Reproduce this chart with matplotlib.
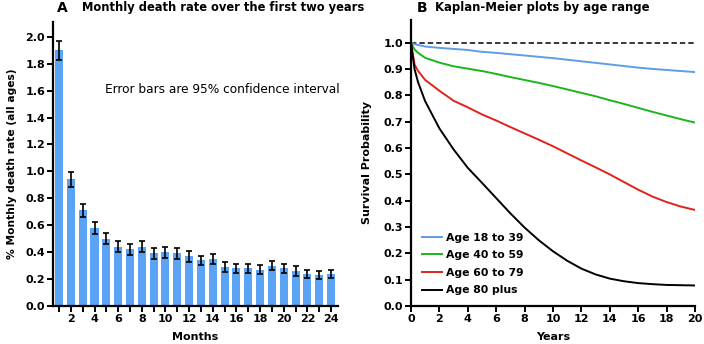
import numpy as np
import matplotlib
matplotlib.use("Agg")
import matplotlib.pyplot as plt

plt.rcParams['font.family'] = ['DejaVu Sans']

# panel A: monthly death rate (%), with 95% CI half-widths
months = list(range(1, 25))
death_rate = [1.90, 0.94, 0.71, 0.58, 0.50, 0.44, 0.42, 0.44, 0.39, 0.40, 0.39, 0.37,
              0.34, 0.35, 0.29, 0.28, 0.28, 0.27, 0.30, 0.28, 0.26, 0.24, 0.23, 0.24]
ci_half = [0.07, 0.055, 0.05, 0.045, 0.04, 0.04, 0.04, 0.04, 0.04, 0.04, 0.04, 0.04,
           0.035, 0.035, 0.035, 0.035, 0.035, 0.035, 0.035, 0.035, 0.035, 0.03, 0.03, 0.03]

# panel B: Kaplan-Meier survival by age range
years = [0, 0.25, 0.5, 1, 2, 3, 4, 5, 6, 7, 8, 9, 10, 11, 12, 13, 14, 15, 16, 17, 18, 19, 20]
surv_18_39 = [1.0, 0.995, 0.992, 0.986, 0.981, 0.977, 0.973, 0.966, 0.962, 0.957, 0.952, 0.947,
              0.942, 0.936, 0.930, 0.924, 0.918, 0.912, 0.906, 0.901, 0.897, 0.893, 0.889]
surv_40_59 = [1.0, 0.975, 0.962, 0.943, 0.925, 0.911, 0.902, 0.893, 0.882, 0.870, 0.859, 0.848,
              0.836, 0.823, 0.810, 0.797, 0.782, 0.768, 0.753, 0.738, 0.724, 0.710, 0.697]
surv_60_79 = [1.0, 0.918, 0.893, 0.859, 0.818, 0.780, 0.755, 0.728, 0.705, 0.680, 0.656, 0.632,
              0.607, 0.580, 0.553, 0.527, 0.500, 0.471, 0.442, 0.416, 0.395, 0.378, 0.365]
surv_80_plus = [1.0, 0.900, 0.850, 0.778, 0.675, 0.595, 0.525, 0.468, 0.410, 0.352, 0.298, 0.250,
                0.208, 0.172, 0.142, 0.120, 0.104, 0.094, 0.087, 0.083, 0.080, 0.079, 0.078]
age_labels = ['Age 18 to 39', 'Age 40 to 59', 'Age 60 to 79', 'Age 80 plus']
line_colors = ['#5d9ee8', '#1db41d', '#e3211c', '#000000']

fig = plt.figure(figsize=(7.04, 3.44), dpi=100)
axA = fig.add_axes([0.0753, 0.1105, 0.405, 0.8256])
axB = fig.add_axes([0.5838, 0.1105, 0.4034, 0.8314])

def style_axis(ax):
    for s in ['top', 'right']:
        ax.spines[s].set_visible(False)
    for s in ['left', 'bottom']:
        ax.spines[s].set_linewidth(1.6)
    ax.tick_params(width=1.4, length=4.5, labelsize=8, pad=1.2)
    for lab in ax.get_xticklabels() + ax.get_yticklabels():
        lab.set_fontweight('bold')

# --- panel A
axA.bar(months, death_rate, width=0.68, color='#5ba3f5', zorder=1)
axA.errorbar(months, death_rate, yerr=ci_half, fmt='none', ecolor='black',
             elinewidth=1.2, capsize=2, capthick=1.2, zorder=2)
axA.set_xlim(0.49, 24.6)
axA.set_ylim(0, 2.11)
axA.set_yticks(np.arange(0, 2.01, 0.2))
axA.set_yticklabels(['%.1f' % v for v in np.arange(0, 2.01, 0.2)])
axA.set_xticks(months)
axA.set_xticklabels([str(m) if m % 2 == 0 else '' for m in months])
axA.set_xlabel('Months', fontsize=8, fontweight='bold', labelpad=6)
axA.set_ylabel('% Monthly death rate (all ages)', fontsize=7.7, fontweight='bold')
axA.yaxis.set_label_coords(-0.128, 0.5)
axA.text(4.9, 1.61, 'Error bars are 95% confidence interval', fontsize=8.7,
         ha='left', va='center')
style_axis(axA)

# --- panel B
axB.axhline(1.0, color='black', lw=1.1, ls=(0, (3.5, 2)), zorder=1)
for surv, lab, col in zip([surv_18_39, surv_40_59, surv_60_79, surv_80_plus],
                          age_labels, line_colors):
    axB.plot(years, surv, color=col, lw=1.4, label=lab, zorder=2)
axB.set_xlim(0, 20)
axB.set_ylim(0, 1.087)
axB.set_xticks(range(0, 21, 2))
axB.set_yticks(np.arange(0, 1.01, 0.1))
axB.set_yticklabels(['%.1f' % v for v in np.arange(0, 1.01, 0.1)])
axB.set_xlabel('Years', fontsize=8, fontweight='bold', labelpad=6)
axB.set_ylabel('Survival Probability', fontsize=8, fontweight='bold')
axB.yaxis.set_label_coords(-0.137, 0.5)
leg = axB.legend(loc='lower left', bbox_to_anchor=(0.037, 0.037), frameon=False,
                 borderaxespad=0, borderpad=0, handlelength=1.9, handletextpad=0.35,
                 labelspacing=0.7, prop={'weight': 'bold', 'size': 7.8})
style_axis(axB)

# panel titles
fig.text(0.088, 0.977, 'A', fontsize=10, fontweight='bold', ha='center', va='center')
fig.text(0.1165, 0.977, 'Monthly death rate over the first two years', fontsize=8.3,
         fontweight='bold', ha='left', va='center')
fig.text(0.6, 0.977, 'B', fontsize=10, fontweight='bold', ha='center', va='center')
fig.text(0.618, 0.977, 'Kaplan-Meier plots by age range', fontsize=8.4,
         fontweight='bold', ha='left', va='center')

fig.savefig('out.png', dpi=100)
